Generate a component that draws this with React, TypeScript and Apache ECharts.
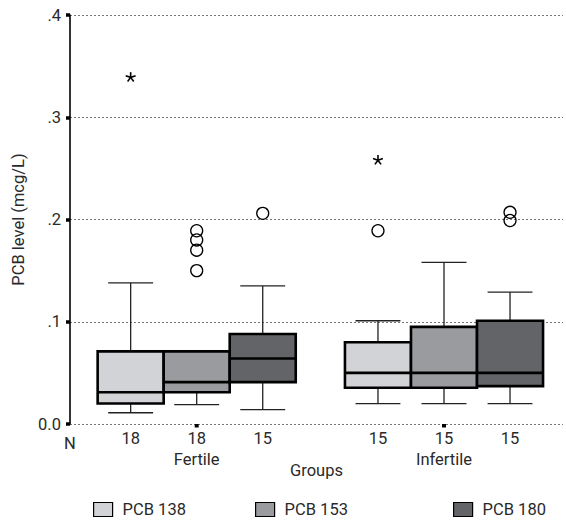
import React, { useEffect, useRef } from "react";
import * as echarts from "echarts";

// ---------- data ----------
const groups = ["Fertile", "Infertile"];
const seriesNames = ["PCB 138", "PCB 153", "PCB 180"];
const yTickLabels = ["0.0", ".1", ".2", ".3", ".4"];

// [lower whisker, Q1, median, Q3, upper whisker] per group (Fertile, Infertile)
const pcb138Boxes = [
  [0.011, 0.02, 0.031, 0.071, 0.138],
  [0.02, 0.0355, 0.05, 0.08, 0.101],
];
const pcb153Boxes = [
  [0.019, 0.031, 0.041, 0.071, 0.071],
  [0.02, 0.0355, 0.05, 0.095, 0.158],
];
const pcb180Boxes = [
  [0.014, 0.041, 0.064, 0.088, 0.135],
  [0.02, 0.037, 0.05, 0.101, 0.129],
];

const pcb138N = [18, 15];
const pcb153N = [18, 15];
const pcb180N = [15, 15];

// outliers (circles) and extremes (asterisks)
const pcb138Outliers = [[], [0.189]];
const pcb153Outliers = [[0.189, 0.18, 0.17, 0.15], []];
const pcb180Outliers = [[0.206], [0.207, 0.199]];
const pcb138Extremes = [[0.339], [0.258]];
const pcb153Extremes = [[], []];
const pcb180Extremes = [[], []];

// ---------- styles / layout ----------
const FONT = "'Roboto', 'Liberation Sans', sans-serif";
const FS = 16.5;
const TEXT = "#2a2a2a";
const FILLS = ["#d1d3d6", "#999b9e", "#636467"];
const BOX_W = 0.267; // in group units
const CAP_RATIO = 0.68;

const allBoxes = [pcb138Boxes, pcb153Boxes, pcb180Boxes];
const allN = [pcb138N, pcb153N, pcb180N];
const allOutliers = [pcb138Outliers, pcb153Outliers, pcb180Outliers];
const allExtremes = [pcb138Extremes, pcb153Extremes, pcb180Extremes];

function makeRender(si: number) {
  return (params: any, api: any) => {
    const gi = api.value(0);
    const box = allBoxes[si][gi];
    const gc = api.coord([gi, 0]);
    const y0 = gc[1];
    const bw = api.size([BOX_W, 0])[0];
    const cx = gc[0] + (si - 1) * bw;
    const yOf = (v: number) => api.coord([gi, v])[1];
    const [lo, q1, med, q3, hi] = box.map(yOf);
    const capHalf = (bw * CAP_RATIO) / 2;
    const wStyle = { stroke: "#222", lineWidth: 1.3 };
    const children: any[] = [];
    children.push({ type: "line", shape: { x1: cx, y1: hi, x2: cx, y2: q3 }, style: wStyle });
    children.push({ type: "line", shape: { x1: cx, y1: q1, x2: cx, y2: lo }, style: wStyle });
    children.push({ type: "line", shape: { x1: cx - capHalf, y1: hi, x2: cx + capHalf, y2: hi }, style: wStyle });
    children.push({ type: "line", shape: { x1: cx - capHalf, y1: lo, x2: cx + capHalf, y2: lo }, style: wStyle });
    children.push({
      type: "rect",
      shape: { x: cx - bw / 2, y: q3, width: bw, height: q1 - q3 },
      style: { fill: FILLS[si], stroke: "#000", lineWidth: 2.6 },
    });
    children.push({
      type: "line",
      shape: { x1: cx - bw / 2, y1: med, x2: cx + bw / 2, y2: med },
      style: { stroke: "#000", lineWidth: 2.6 },
    });
    allOutliers[si][gi].forEach((v: number) => {
      children.push({
        type: "circle",
        shape: { cx, cy: yOf(v), r: 6 },
        style: { fill: "none", stroke: "#000", lineWidth: 1.3 },
      });
    });
    allExtremes[si][gi].forEach((v: number) => {
      const cy = yOf(v);
      for (let k = 0; k < 5; k++) {
        const a = ((-90 + k * 72) * Math.PI) / 180;
        children.push({
          type: "line",
          shape: { x1: cx, y1: cy, x2: cx + 5.2 * Math.cos(a), y2: cy + 5.2 * Math.sin(a) },
          style: { stroke: "#000", lineWidth: 1.6 },
        });
      }
    });
    children.push({
      type: "text",
      x: cx,
      y: y0 + 14,
      style: {
        text: String(allN[si][gi]),
        fontSize: FS,
        fontFamily: FONT,
        fill: TEXT,
        align: "center",
        verticalAlign: "middle",
      },
    });
    if (si === 1) {
      children.push({
        type: "rect",
        shape: { x: gc[0] - 2, y: y0, width: 4, height: 3.5 },
        style: { fill: "#000" },
      });
      children.push({
        type: "text",
        x: gc[0],
        y: y0 + 35,
        style: {
          text: groups[gi],
          fontSize: FS,
          fontFamily: FONT,
          fill: TEXT,
          align: "center",
          verticalAlign: "middle",
        },
      });
    }
    return { type: "group", children };
  };
}

const legendLefts = [93, 255, 453];

export default function App() {
  const ref = useRef<HTMLDivElement>(null);
  useEffect(() => {
    if (!ref.current) return;
    const chart = echarts.init(ref.current, undefined, { renderer: "svg" });
    chart.setOption({
      animation: false,
      backgroundColor: "#fff",
      grid: { left: 70, right: 3, top: 15, bottom: 97 },
      xAxis: {
        type: "value",
        min: -0.5123,
        max: 1.4812,
        axisLine: { show: false },
        axisTick: { show: false },
        axisLabel: { show: false },
        splitLine: { show: false },
        name: "Groups",
        nameLocation: "middle",
        nameGap: 38,
        nameTextStyle: { fontSize: FS, fontFamily: FONT, color: TEXT },
      },
      yAxis: {
        type: "value",
        min: 0,
        max: 0.4,
        interval: 0.1,
        axisLine: { show: true, onZero: false, lineStyle: { color: "#000", width: 1.6 } },
        axisTick: { show: true, length: 4, lineStyle: { color: "#000", width: 3.5 } },
        axisLabel: {
          margin: 9,
          fontSize: FS,
          fontFamily: FONT,
          color: TEXT,
          formatter: (v: number) => yTickLabels[Math.round(v * 10)],
        },
        splitLine: { show: true, lineStyle: { color: "#777", width: 1, type: [2, 2] } },
        name: "PCB level (mcg/L)",
        nameLocation: "middle",
        nameRotate: 90,
        nameGap: 42,
        nameTextStyle: { fontSize: FS, fontFamily: FONT, color: TEXT },
      },
      legend: seriesNames.map((n, i) => ({
        data: [n],
        left: legendLefts[i],
        top: 501,
        padding: 0,
        icon: "rect",
        itemWidth: 19,
        itemHeight: 14,
        selectedMode: false,
        itemStyle: { borderColor: "#000", borderWidth: 1.2 },
        textStyle: { fontSize: FS, fontFamily: FONT, color: TEXT, padding: [0, 0, 0, 5] },
      })),
      graphic: [
        {
          type: "text",
          x: 70,
          y: 443,
          style: {
            text: "N",
            fontSize: FS,
            fontFamily: FONT,
            fill: TEXT,
            align: "center",
            verticalAlign: "middle",
          },
        },
      ],
      series: seriesNames.map((name, si) => ({
        type: "custom",
        name,
        itemStyle: { color: FILLS[si] },
        renderItem: makeRender(si),
        data: groups.map((_, gi) => [gi, ...allBoxes[si][gi]]),
        encode: { x: 0, y: [1, 2, 3, 4, 5] },
        clip: false,
        z: 3,
      })),
    });
    return () => chart.dispose();
  }, []);
  return (
    <div
      ref={ref}
      style={{ position: "fixed", left: 0, top: 0, width: 566, height: 521 }}
    />
  );
}
